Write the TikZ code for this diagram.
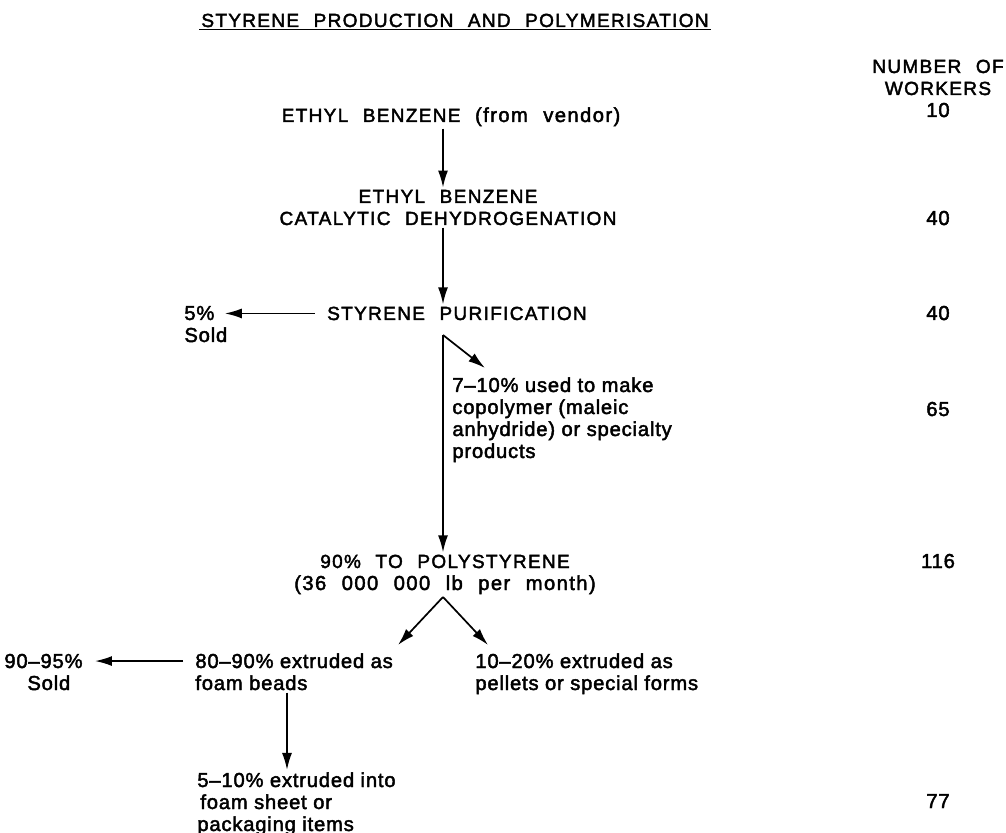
\documentclass[tikz,border=0pt]{standalone}
\usepackage{fontspec}
\setmainfont{Liberation Sans}[LetterSpace=4,FakeBold=2.2]
\newfontfamily\capsfont{Liberation Sans}[LetterSpace=7,WordSpace=2.2,FakeBold=2.2]
\usetikzlibrary{arrows.meta,calc}

\begin{document}
\begin{tikzpicture}[x=0.5pt,y=-0.5pt,
	flow/.style={-{Latex[length=8.5pt,width=5pt]},line width=0.85pt},
	lbl/.style={inner sep=1pt,align=left,font=\fontsize{10.1}{11}\selectfont},
	captxt/.style={inner sep=1pt,align=center,font=\fontsize{9.5}{11}\capsfont}]
		\useasboundingbox (0,0) rectangle (1006,833);
		\coordinate (spine) at (443,0);
		% Titel
		\node[captxt,anchor=base] (title) at (455,27) {STYRENE PRODUCTION AND POLYMERISATION};
		\draw[line width=0.9pt] (title.south west) -- (title.south east);
		% Spalte rechts (anchor base = letzte Zeile)
		\node[captxt,anchor=base] (hdr) at (938,95) {NUMBER OF\\WORKERS};
		\node[lbl,anchor=base] (w10) at (938,117) {10};
		\node[lbl,anchor=base] (w40a) at (938,225) {40};
		\node[lbl,anchor=base] (w40b) at (938,320) {40};
		\node[lbl,anchor=base] (w65) at (938,416) {65};
		\node[lbl,anchor=base] (w116) at (938,568) {116};
		\node[lbl,anchor=base] (w77) at (938,808) {77};
		% Hauptstrang
		\node[captxt,anchor=base] (eb) at (451,122) {ETHYL BENZENE {\fontsize{10.1}{11}\selectfont(from vendor)}};
		\node[captxt,anchor=base] (dehyd) at (448,225) {ETHYL BENZENE\\CATALYTIC DEHYDROGENATION};
		\node[captxt,anchor=base] (purif) at (457,320) {STYRENE PURIFICATION};
		\node[lbl,anchor=base west] (pct1) at (182,320) {5\%};
		\node[lbl,anchor=base west] (sold1) at (182,342) {Sold};
		\node[lbl,anchor=base west] (copo) at (450,458) {7--10\% used to make\\copolymer (maleic\\anhydride) or specialty\\products};
		\node[captxt,anchor=base] (poly) at (445,590) {90\% TO POLYSTYRENE\\{\fontsize{10.1}{11}\selectfont(36 000 000 lb per month)}};
		\node[lbl,anchor=base west] (beads) at (193,690) {80--90\% extruded as\\foam beads};
		\node[lbl,anchor=base west] (pellets) at (473,690) {10--20\% extruded as\\pellets or special forms};
		\node[lbl,anchor=base west] (pct2) at (2,668) {90--95\%};
		\node[lbl,anchor=base west] (sold2) at (25,690) {Sold};
		\node[lbl,anchor=base west] (sheet) at (195,831) {5--10\% extruded into\\\hspace*{1.5pt}foam sheet or\\packaging items};
		% Pfeile
		\coordinate (branch) at (443,335);
		\coordinate (split) at (443,597);
		\draw[flow] (eb.south -| spine) -- (dehyd.north -| spine);
		\draw[flow] (dehyd.south -| spine) -- (purif.north -| spine);
		\draw[flow,shorten <=5pt,shorten >=4pt] (purif.west) -- (purif.west -| pct1.east);
		\draw[flow] (branch) -- (poly.north -| spine);
		\draw[flow] (branch) -- (485,368);
		\draw[flow] (split) -- (398,645);
		\draw[flow] (split) -- (488,645);
		\draw[flow,shorten <=5pt,shorten >=5pt] (pct2.east -| beads.west) -- (pct2.east);
		\draw[flow] (beads.south -| 287,0) -- (sheet.north -| 287,0);
\end{tikzpicture}
\end{document}
